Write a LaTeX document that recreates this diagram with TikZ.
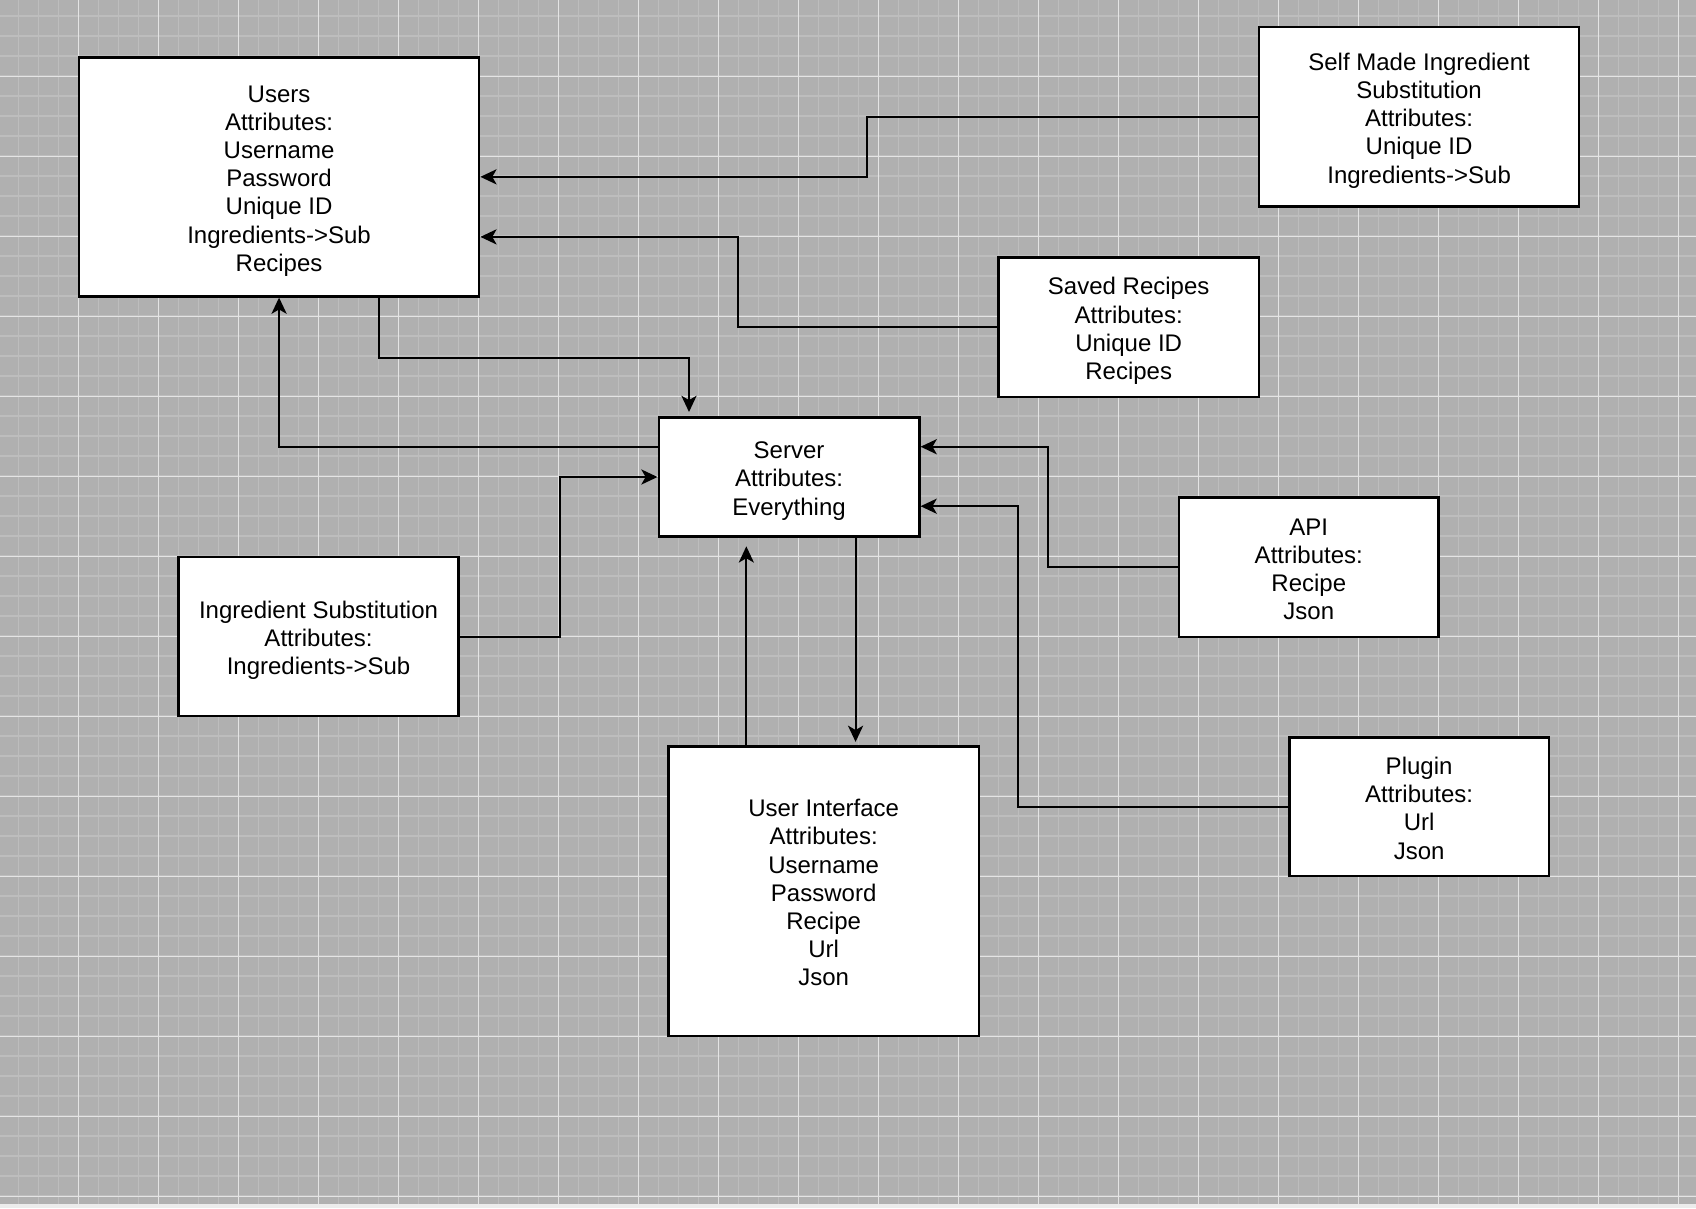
\documentclass[tikz,border=0pt]{standalone}
\usepackage{fontspec}
\setmainfont{Liberation Sans}
\usetikzlibrary{arrows.meta, positioning}
\definecolor{canvasGray}{RGB}{176,176,176}
\definecolor{minorGray}{RGB}{189,189,189}
\definecolor{majorGray}{RGB}{228,228,228}
\definecolor{footGray}{RGB}{236,236,236}
% struts that even out the first and last text line
\newcommand{\firstStrut}{\rule{0pt}{23pt}}
\newcommand{\lastStrut}{\rule[-4.6pt]{0pt}{0pt}}
\tikzset{
    % Base style for all entity blocks
    entity/.style={
        rectangle,
        draw=black,
        fill=white,
        line width=2.2pt,
        align=center,
        inner sep=0pt,
        font=\fontsize{22.2}{26}\selectfont
    },
    % Arrow and grid styles
    arrow/.style={-{Stealth[length=15pt, width=14pt, inset=4pt]}, line width=1.8pt, draw=black},
    minorLine/.style={draw=minorGray, line width=1.3pt},
    majorLine/.style={draw=majorGray, line width=0.9pt}
}

\begin{document}
\begin{tikzpicture}[x=1pt, y=-1pt]

    % --- Canvas with grid ---
    \useasboundingbox (0,0) rectangle (1568,1117);
    \fill [canvasGray] (0,0) rectangle (1568,1117);
    \foreach \gx in {0,...,84} {
        \draw [minorLine] ({16.9+18.49*\gx},0) -- ++(0,1117);
    }
    \foreach \gy in {0,...,60} {
        \draw [minorLine] (0,{14.8+18.49*\gy}) -- ++(1568,0);
    }
    \foreach \gx in {0,...,20} {
        \draw [majorLine] ({72.6+73.96*\gx},0) -- ++(0,1117);
    }
    \foreach \gy in {0,...,14} {
        \draw [majorLine] (0,{70.3+73.96*\gy}) -- ++(1568,0);
    }
    \fill [footGray] (0,1113) rectangle (1568,1117);

    % --- Entities ---
    \node (users) [entity, minimum width=370pt, minimum height=221pt] at (258,163.5) {
        \firstStrut Users\\ Attributes:\\ Username\\ Password\\ Unique ID\\ Ingredients->Sub\\ Recipes\lastStrut
    };
    \node (selfSub) [entity, minimum width=296pt, minimum height=166pt] at (1312,108) {
        \firstStrut Self Made Ingredient\\ Substitution\\ Attributes:\\ Unique ID\\ Ingredients->Sub\lastStrut
    };
    \node (saved) [entity, minimum width=241pt, minimum height=129pt] at (1043.5,302.5) {
        \firstStrut Saved Recipes\\ Attributes:\\ Unique ID\\ Recipes\lastStrut
    };
    \node (server) [entity, minimum width=241pt, minimum height=110pt] at (729.5,441) {
        \firstStrut Server\\ Attributes:\\ Everything\lastStrut
    };
    \node (api) [entity, minimum width=240pt, minimum height=129pt] at (1210,524.5) {
        \firstStrut API\\ Attributes:\\ Recipe\\ Json\lastStrut
    };
    \node (ingSub) [entity, minimum width=259pt, minimum height=147pt] at (294.5,588.5) {
        \firstStrut Ingredient Substitution\\ Attributes:\\ Ingredients->Sub\lastStrut
    };
    \node (ui) [entity, minimum width=287pt, minimum height=268pt] at (761.5,824) {
        \firstStrut User Interface\\ Attributes:\\ Username\\ Password\\ Recipe\\ Url\\ Json\lastStrut
    };
    \node (plugin) [entity, minimum width=240pt, minimum height=128pt] at (1312,746) {
        \firstStrut Plugin\\ Attributes:\\ Url\\ Json\lastStrut
    };

    % --- Arrows ---
    \draw [arrow] (selfSub.west) -- ++(-361,0) |- (users.east);
    \draw [arrow] (saved.west) -- ++(-240,0) |- ([yshift=-55.5pt]users.east);
    \draw [arrow, shorten >=4pt] ([xshift=92pt]users.south) -- ++(0,56) -| ([xshift=-92.5pt]server.north);
    \draw [arrow] ([yshift=28pt]server.west) -| (users.south);
    \draw [arrow] (ingSub.east) -- ++(93,0) |- (server.west);
    \draw [arrow, shorten >=8pt] ([xshift=-71.5pt]ui.north) -- ([xshift=-71.5pt]ui.north |- server.south);
    \draw [arrow, shorten >=3pt] ([xshift=61.5pt]server.south) -- ([xshift=61.5pt]server.south |- ui.north);
    \draw [arrow] (api.west) -- ++(-120,0) |- ([yshift=28pt]server.east);
    \draw [arrow] (plugin.west) -- ++(-250,0) |- ([yshift=-27pt]server.east);

\end{tikzpicture}
\end{document}
